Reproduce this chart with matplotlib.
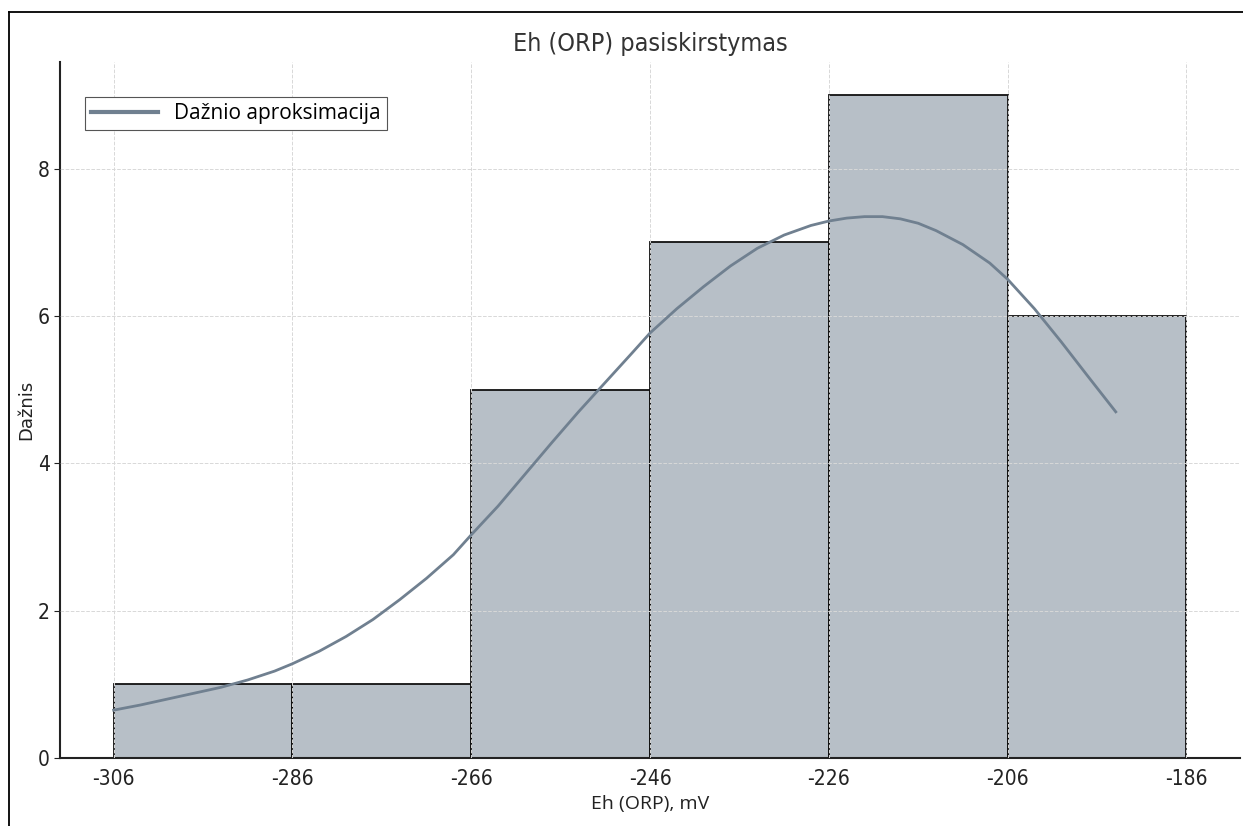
import matplotlib
matplotlib.use("Agg")
import matplotlib.pyplot as plt
from matplotlib.lines import Line2D

# Histogram bins (mV) and counts
bin_edges = [-306, -286, -266, -246, -226, -206, -186]
counts = [1, 1, 5, 7, 9, 6]

# Smoothed frequency curve
curve_x = [-306, -303, -300, -297, -294, -291, -288, -286, -283, -280,
           -277, -274, -271, -268, -266, -263, -260, -257, -254, -251,
           -248, -246, -243, -240, -237, -234, -231, -228, -226, -224,
           -222, -220, -218, -216, -214, -211, -208, -206, -203, -200,
           -197, -193.9]
curve_y = [0.65, 0.72, 0.80, 0.88, 0.96, 1.06, 1.18, 1.28, 1.45, 1.65,
           1.88, 2.15, 2.44, 2.76, 3.03, 3.42, 3.85, 4.28, 4.70, 5.10,
           5.50, 5.77, 6.10, 6.40, 6.68, 6.92, 7.10, 7.23, 7.29, 7.33,
           7.35, 7.35, 7.32, 7.26, 7.16, 6.97, 6.72, 6.50, 6.10, 5.65,
           5.18, 4.70]

xticks = [-306, -286, -266, -246, -226, -206, -186]
yticks = [0, 2, 4, 6, 8]

color = "#708090"
tick_font = {"family": "DejaVu Sans", "stretch": "condensed", "size": 15}

fig = plt.figure(figsize=(12.43, 8.26), dpi=100)
ax = fig.add_axes([0.0483, 0.0823, 0.9493, 0.8427])

widths = [b - a for a, b in zip(bin_edges[:-1], bin_edges[1:])]
ax.bar(bin_edges[:-1], counts, width=widths, align="edge",
       color=color, alpha=0.5, edgecolor="none", zorder=1)
ax.bar(bin_edges[:-1], counts, width=widths, align="edge",
       facecolor="none", edgecolor="#111111", linewidth=1.3, zorder=2)
ax.plot(curve_x, curve_y, color=color, linewidth=2, zorder=4,
        label="Dažnio aproksimacija")

ax.set_xticks(xticks)
ax.set_xticklabels([str(t) for t in xticks], fontdict=tick_font)
ax.set_yticks(yticks)
ax.set_yticklabels([str(t) for t in yticks], fontdict=tick_font)
ax.tick_params(colors="#222222")
ax.tick_params(axis="x", length=0, pad=8)
ax.tick_params(axis="y", length=4)
ax.set_xlim(-312, -180)
ax.set_ylim(0, 9.45)

ax.grid(True, linestyle="--", color="#d8d8d8", linewidth=0.7, zorder=3)
ax.set_axisbelow(False)

for side in ["top", "right"]:
    ax.spines[side].set_visible(False)
for side in ["left", "bottom"]:
    ax.spines[side].set_color("#222222")
    ax.spines[side].set_linewidth(1.5)

ax.set_title("Eh (ORP) pasiskirstymas", fontsize=18, color="#333333", pad=8,
             fontstretch="condensed")
ax.set_xlabel("Eh (ORP), mV", fontsize=14, family="Open Sans", color="#222222",
              labelpad=4)
ax.set_ylabel("Dažnis", fontsize=13, color="#222222", labelpad=2)

leg = ax.legend(loc="upper left", bbox_to_anchor=(0.012, 0.965), fancybox=False,
                prop={"family": "Open Sans", "size": 15}, handlelength=3.2,
                borderpad=0.3, framealpha=1)
leg.get_frame().set_edgecolor("#555555")
leg.get_frame().set_linewidth(0.8)
leg.get_lines()[0].set_linewidth(3)

# thin frame on top and left edge of the figure
fig.add_artist(Line2D([0.0072, 1.0], [0.9855, 0.9855], color="black", linewidth=1.3))
fig.add_artist(Line2D([0.0072, 0.0072], [0.0, 0.9855], color="black", linewidth=1.3))

fig.savefig("out.png", dpi=100)
